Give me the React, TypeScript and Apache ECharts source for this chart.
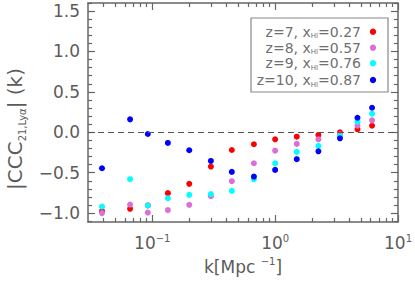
import React, { useEffect, useRef } from "react";
import * as echarts from "echarts";

// ---- data ----
const kValues = [0.039, 0.066, 0.092, 0.134, 0.2, 0.3, 0.444, 0.672, 1.0, 1.5, 2.25, 3.37, 4.68, 6.15];
const cccZ7 = [-0.975, -0.947, -0.905, -0.753, -0.638, -0.424, -0.219, -0.148, -0.087, -0.054, -0.033, 0.0, 0.037, 0.081];
const cccZ8 = [-1.0, -0.895, -0.993, -0.963, -0.897, -0.79, -0.605, -0.383, -0.227, -0.144, -0.087, -0.025, 0.081, 0.148];
const cccZ9 = [-0.92, -0.58, -0.906, -0.815, -0.774, -0.765, -0.725, -0.58, -0.383, -0.243, -0.169, -0.05, 0.131, 0.23];
const cccZ10 = [-0.445, 0.16, -0.021, -0.132, -0.222, -0.354, -0.49, -0.548, -0.465, -0.333, -0.235, -0.074, 0.18, 0.304];
const redshifts = ["7", "8", "9", "10"];
const xHI = ["0.27", "0.57", "0.76", "0.87"];
const seriesColors = ["#ff0000", "#da70d6", "#00ffff", "#0000ff"];

// ---- tick positions ----
const xMajorTicks = [0.1, 1, 10];
const xMinorTicks = [0.04, 0.05, 0.06, 0.07, 0.08, 0.09, 0.2, 0.3, 0.4, 0.5, 0.6, 0.7, 0.8, 0.9, 2, 3, 4, 5, 6, 7, 8, 9];
const yMajorTicks = [-1, -0.5, 0, 0.5, 1, 1.5];
const yMinorTicks = [-1.1, -0.9, -0.8, -0.7, -0.6, -0.4, -0.3, -0.2, -0.1, 0.1, 0.2, 0.3, 0.4, 0.6, 0.7, 0.8, 0.9, 1.1, 1.2, 1.3, 1.4, 1.6];

const FONT = "DejaVu Sans";
const AXIS_COLOR = "#666";
const TEXT_COLOR = "#5c5c5c";

export default function App() {
  const ref = useRef<HTMLDivElement>(null);

  useEffect(() => {
    if (!ref.current) return;
    const chart = echarts.init(ref.current, null, { renderer: "svg" });

    const seriesData = [cccZ7, cccZ8, cccZ9, cccZ10];

    const hiddenLine = { show: false, onZero: false, lineStyle: { color: AXIS_COLOR, width: 1.5 } };
    const shownLine = { show: true, onZero: false, lineStyle: { color: AXIS_COLOR, width: 1.5 } };

    const xBase = {
      type: "log" as const,
      logBase: 10,
      min: 0.03,
      max: 10,
      gridIndex: 0,
      splitLine: { show: false },
      axisLine: hiddenLine,
      axisLabel: { show: false },
    };
    const yBase = {
      type: "value" as const,
      min: -1.11,
      max: 1.6,
      gridIndex: 0,
      splitLine: { show: false },
      axisLine: hiddenLine,
      axisLabel: { show: false },
    };
    const majorTick = (vals: number[]) => ({
      show: true,
      inside: true,
      length: 7,
      customValues: vals,
      lineStyle: { color: AXIS_COLOR, width: 1.2 },
    });
    const minorTick = (vals: number[]) => ({
      show: true,
      inside: true,
      length: 4,
      customValues: vals,
      lineStyle: { color: AXIS_COLOR, width: 1.2 },
    });

    const legendY = [31.7, 47.7, 63.3, 80];
    const legendRows = redshifts.map((z, i) => ({
      type: "text",
      x: 361,
      y: legendY[i],
      style: {
        text: `{t|z=${z}, x}{s|HI}{t|=${xHI[i]}}`,
        align: "right",
        verticalAlign: "middle",
        rich: {
          t: { fontFamily: FONT, fontSize: 14, fill: "#707070", lineHeight: 16 },
          s: { fontFamily: FONT, fontSize: 7, fill: "#707070", lineHeight: 8, verticalAlign: "bottom" },
        },
      },
    }));
    const legendDots = seriesColors.map((c, i) => ({
      type: "circle",
      shape: { cx: 373, cy: legendY[i], r: 3.2 },
      style: { fill: c },
    }));

    chart.setOption({
      animation: false,
      grid: { left: 88, right: 15, top: 3, bottom: 65, containLabel: false },
      xAxis: [
        {
          ...xBase,
          position: "bottom",
          axisLine: shownLine,
          axisTick: majorTick(xMajorTicks),
          axisLabel: {
            show: true,
            customValues: xMajorTicks,
            margin: 11,
            formatter: (v: number) => {
              const e = Math.round(Math.log10(v));
              return `{b|10}{s|${e < 0 ? "−" : ""}${Math.abs(e)}}`;
            },
            rich: {
              b: { fontFamily: FONT, fontSize: 17, color: TEXT_COLOR, lineHeight: 20 },
              s: { fontFamily: FONT, fontSize: 10, color: TEXT_COLOR, lineHeight: 12, verticalAlign: "top" },
            },
          },
          name: "{b|k[Mpc }{s|−1}{b|]}",
          nameLocation: "middle",
          nameGap: 33,
          nameTextStyle: {
            rich: {
              b: { fontFamily: FONT, fontSize: 17, color: TEXT_COLOR, lineHeight: 22 },
              s: { fontFamily: FONT, fontSize: 10, color: TEXT_COLOR, lineHeight: 12, verticalAlign: "top" },
            },
          },
        },
        { ...xBase, position: "bottom", axisTick: minorTick(xMinorTicks) },
        { ...xBase, position: "top", axisLine: shownLine, axisTick: majorTick(xMajorTicks) },
        { ...xBase, position: "top", axisTick: minorTick(xMinorTicks) },
      ],
      yAxis: [
        {
          ...yBase,
          position: "left",
          axisLine: shownLine,
          axisTick: majorTick(yMajorTicks),
          axisLabel: {
            show: true,
            customValues: yMajorTicks,
            margin: 8,
            fontFamily: FONT,
            fontSize: 17,
            color: TEXT_COLOR,
            formatter: (v: number) => (v < 0 ? "−" : "") + Math.abs(v).toFixed(1),
          },
        },
        { ...yBase, position: "left", axisTick: minorTick(yMinorTicks) },
        { ...yBase, position: "right", axisLine: shownLine, axisTick: majorTick(yMajorTicks) },
        { ...yBase, position: "right", axisTick: minorTick(yMinorTicks) },
      ],
      series: seriesData.map((vals, i) => ({
        name: `z=${redshifts[i]}`,
        type: "scatter",
        xAxisIndex: 0,
        yAxisIndex: 0,
        symbol: "circle",
        symbolSize: 6,
        itemStyle: { color: seriesColors[i], opacity: 1 },
        data: kValues.map((k, j) => [k, vals[j]]),
        z: 3,
        ...(i === 0
          ? {
              markLine: {
                silent: true,
                symbol: ["none", "none"],
                label: { show: false },
                lineStyle: { color: "#555", type: [6, 4], width: 1 },
                data: [{ yAxis: 0 }],
              },
            }
          : {}),
      })),
      graphic: [
        {
          type: "text",
          x: 15,
          y: 129,
          rotation: Math.PI / 2,
          style: {
            text: "{t||CCC}{s|21,Lyα}{t|| (k)}",
            align: "center",
            verticalAlign: "middle",
            rich: {
              t: { fontFamily: FONT, fontSize: 20, fill: TEXT_COLOR, lineHeight: 24 },
              s: { fontFamily: FONT, fontSize: 10, fill: TEXT_COLOR, lineHeight: 10, verticalAlign: "bottom" },
            },
          },
        },
        {
          type: "rect",
          shape: { x: 251, y: 18, width: 137, height: 74 },
          style: { fill: "#fff", stroke: "#888", lineWidth: 1.2 },
        },
        ...legendRows,
        ...legendDots,
      ],
    });

    return () => chart.dispose();
  }, []);

  return (
    <div
      ref={ref}
      style={{ position: "fixed", left: 0, top: 0, width: 415, height: 287, background: "#fff" }}
    />
  );
}
